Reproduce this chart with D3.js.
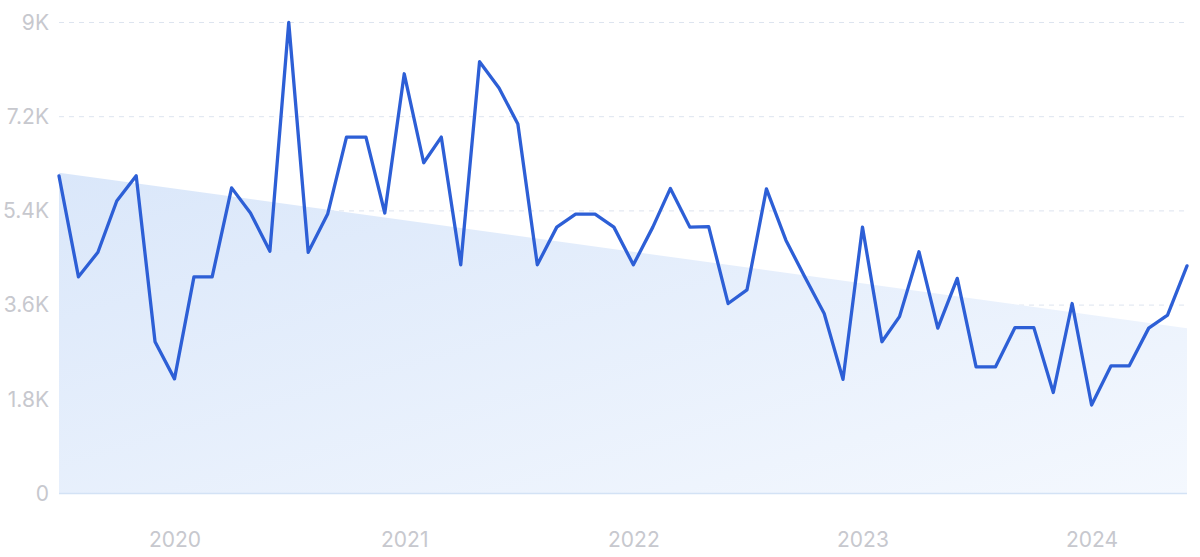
<!DOCTYPE html>
<html>
<head>
<meta charset="utf-8">
<script src="https://cdn.jsdelivr.net/npm/d3@7/dist/d3.min.js"></script>
<style>
html,body{margin:0;padding:0;background:#fff;}
svg{display:block;}
text{font-family:Inter,"Noto Sans",sans-serif;}
</style>
</head>
<body>
<svg id="chart" width="1200" height="557"></svg>
<script>
// Monthly values, Jul 2019 – Jun 2024
const months = d3.range(60).map(i => new Date(2019, 6 + i, 1));
const values = [
  6070, 4140, 4610, 5590, 6070, 2900, 2190, 4140, 4140, 5840,
  5360, 4630, 9000, 4610, 5340, 6810, 6810, 5360, 8020, 6320,
  6810, 4370, 8250, 7750, 7060, 4370, 5090, 5340, 5340, 5090,
  4370, 5090, 5830, 5090, 5100, 3630, 3890, 5820, 4840, 4140,
  3440, 2180, 5090, 2900, 3380, 4620, 3160, 4110, 2420, 2420,
  3170, 3170, 1930, 3630, 1690, 2440, 2440, 3160, 3410, 4350
];
// Trend (shaded) start and end values
const trendValues = [6130, 3160];
const yTicks = [0, 1800, 3600, 5400, 7200, 9000];
const yTickLabels = ["0", "1.8K", "3.6K", "5.4K", "7.2K", "9K"];
const yearTicks = [2020, 2021, 2022, 2023, 2024];

const svg = d3.select("#chart");
const mLeft = 59, mRight = 1187, mTop = 22.5, mBottom = 493.5;

const x = d3.scaleTime()
  .domain([months[0], months[months.length - 1]])
  .range([mLeft, mRight]);
const y = d3.scaleLinear().domain([0, 9000]).range([mBottom, mTop]);

// gradient
const defs = svg.append("defs");
const grad = defs.append("linearGradient")
  .attr("id", "fillGrad")
  .attr("x1", "0%").attr("y1", "0%")
  .attr("x2", "100%").attr("y2", "100%");
grad.append("stop").attr("offset", "0%").attr("stop-color", "#dae7fa");
grad.append("stop").attr("offset", "100%").attr("stop-color", "#f4f8fe");

// Gridlines
svg.append("g")
  .selectAll("line")
  .data(yTicks.filter(d => d > 0))
  .join("line")
  .attr("x1", mLeft).attr("x2", mRight)
  .attr("y1", d => y(d)).attr("y2", d => y(d))
  .attr("stroke", "#dde4ef")
  .attr("stroke-width", 1)
  .attr("stroke-dasharray", "5,5");

// Trend area
const tScale = d3.scaleLinear()
  .domain([months[0], months[months.length - 1]].map(d => +d))
  .range(trendValues);
const area = d3.area()
  .x(d => x(d))
  .y0(y(0))
  .y1(d => y(tScale(+d)));
svg.append("path")
  .datum([months[0], months[months.length - 1]])
  .attr("d", area)
  .attr("fill", "url(#fillGrad)");

// baseline
svg.append("line")
  .attr("x1", mLeft).attr("x2", mRight)
  .attr("y1", y(0)).attr("y2", y(0))
  .attr("stroke", "#d3e2f5").attr("stroke-width", 1.5);

// line
const line = d3.line()
  .x((d, i) => x(months[i]))
  .y(d => y(d));
svg.append("path")
  .datum(values)
  .attr("d", line)
  .attr("fill", "none")
  .attr("stroke", "#2d5fd6")
  .attr("stroke-width", 3.3)
  .attr("stroke-linejoin", "round")
  .attr("stroke-linecap", "round");

// Y axis labels
const yAxis = d3.axisLeft(y)
  .tickValues(yTicks)
  .tickFormat((d, i) => yTickLabels[i])
  .tickSize(0)
  .tickPadding(0);
const gy = svg.append("g").attr("transform", `translate(${mLeft - 10},0)`).call(yAxis);
gy.select(".domain").remove();
gy.selectAll("text")
  .attr("fill", "#c7c8ce")
  .attr("font-size", 21)
  .attr("font-family", "Inter, 'Noto Sans', sans-serif");

// X axis labels
const xAxis = d3.axisBottom(x)
  .tickValues(yearTicks.map(yv => new Date(yv, 0, 1)))
  .tickFormat(d3.timeFormat("%Y"))
  .tickSize(0)
  .tickPadding(0);
const gx = svg.append("g").attr("transform", `translate(0,${mBottom + 39})`).call(xAxis);
gx.select(".domain").remove();
gx.selectAll("text")
  .attr("fill", "#c7c8ce")
  .attr("font-size", 21)
  .attr("font-family", "Inter, 'Noto Sans', sans-serif");
</script>
</body>
</html>
